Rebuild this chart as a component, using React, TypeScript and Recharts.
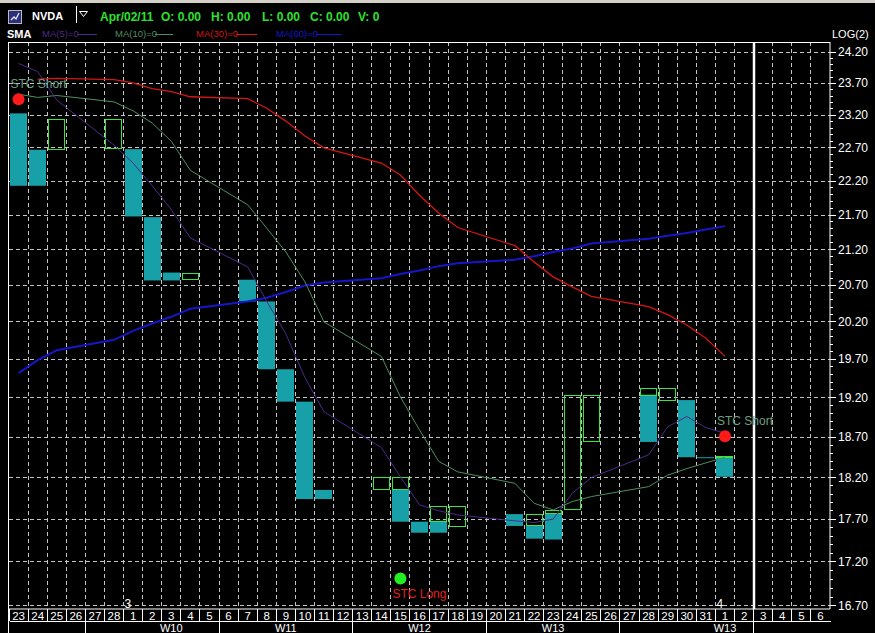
import React from "react";
import { ComposedChart, Bar, Line, XAxis, YAxis, CartesianGrid } from "recharts";

const _ = null;
const FONT = '"Liberation Sans", Arial, sans-serif';

// one slot per calendar day, Feb 23 .. Apr 6 2011
const days = [
  "23", "24", "25", "26", "27", "28",
  "1", "2", "3", "4", "5", "6", "7", "8", "9", "10", "11", "12", "13", "14", "15", "16",
  "17", "18", "19", "20", "21", "22", "23", "24", "25", "26", "27", "28", "29", "30", "31",
  "1", "2", "3", "4", "5", "6",
];
const weekStarts = [4, 11, 18, 25, 32, 39];
const weekLabels = [
  { text: "W10", slot: 8 },
  { text: "W11", slot: 14 },
  { text: "W12", slot: 21 },
  { text: "W13", slot: 28 },
  { text: "W13", slot: 37 },
];
const monthMarks: Record<number, string> = { 6: "3", 37: "4" };
const lastDay = 38; // Apr 2, the header date

const yMajor = [16.7, 17.2, 17.7, 18.2, 18.7, 19.2, 19.7, 20.2, 20.7, 21.2, 21.7, 22.2, 22.7, 23.2, 23.7, 24.2];
const yDomain = [16.666, 24.368];

// hollow green boxes (up) and filled teal boxes (down), [low, high]
const upBox: ([number, number] | null)[] = [
  _, _, [22.68, 23.14], _, _, [22.7, 23.14], _, _, _, [20.79, 20.88],
  _, _, _, _, _, _, _, _, _, [18.06, 18.21],
  [18.06, 18.21], _, [17.68, 17.86], [17.62, 17.86], _, _, _, [17.63, 17.76], [17.77, 17.81], [17.82, 19.24],
  [18.65, 19.24], _, _, [19.24, 19.33], [19.18, 19.33], _, _, [18.45, 18.46], _, _,
  _, _, _,
];
const downBox: ([number, number] | null)[] = [
  [22.13, 23.23], [22.13, 22.67], _, _, _, _, [21.68, 22.68], [20.77, 21.67], [20.77, 20.88], _,
  _, _, [20.48, 20.78], [19.57, 20.48], [19.15, 19.57], [17.94, 19.15], [17.94, 18.05], _, _, _,
  [17.67, 18.06], [17.54, 17.67], [17.54, 17.68], _, _, _, [17.62, 17.76], [17.47, 17.63], [17.46, 17.77], _,
  _, _, _, [18.64, 19.24], _, [18.45, 19.17], [18.44, 18.45], [18.21, 18.45], _, _,
  _, _, _,
];

const ma5 = [
  24.02, 23.89, 23.44, _, _, 22.74, 22.47, 22.13, 21.78, 21.37,
  _, _, 20.96, 20.48, 20.04, 19.46, 19.02, _, _, 18.57,
  18.21, 17.87, 17.8, 17.75, _, _, 17.68, 17.66, 17.7, 18.01,
  18.2, _, _, 18.48, 18.83, 18.96, 18.82, 18.75, _, _,
  _, _, _,
];
const ma10 = [
  23.53, 23.48, 23.51, _, _, 23.41, 23.27, 23.08, 22.8, 22.36,
  _, _, 21.85, 21.51, 21.17, 20.75, 20.2, _, _, 19.74,
  19.21, 18.79, 18.4, 18.27, _, _, 18.13, 17.89, 17.81, 17.91,
  17.97, _, _, 18.09, 18.23, 18.31, 18.38, 18.45, _, _,
  _, _, _,
];
const ma30 = [
  _, 23.77, 23.78, _, _, 23.76, 23.71, 23.62, 23.57, 23.49,
  _, _, 23.46, 23.31, 23.11, 22.88, 22.7, _, _, 22.47,
  22.29, 21.99, 21.73, 21.52, _, _, 21.26, 21.03, 20.82, 20.68,
  20.55, _, _, 20.41, 20.3, 20.16, 19.98, 19.74, _, _,
  _, _, _,
];
const ma60 = [
  19.52, 19.69, 19.82, _, _, 19.96, 20.08, 20.18, 20.27, 20.38,
  _, _, 20.48, 20.53, 20.61, 20.7, 20.74, _, _, 20.8,
  20.86, 20.91, 20.97, 21.01, _, _, 21.06, 21.11, 21.17, 21.22,
  21.29, _, _, 21.36, 21.4, 21.44, 21.49, 21.54, _, _,
  _, _, _,
];
const stcShort: Record<number, number> = { 0: 23.45, 37: 18.71 };
const stcLong: Record<number, number> = { 20: 17.01 };

const rows = days.map((day, i) => ({
  idx: i,
  day,
  up: upBox[i],
  down: downBox[i],
  ma5: ma5[i],
  ma10: ma10[i],
  ma30: ma30[i],
  ma60: ma60[i],
  short: stcShort[i] ?? null,
  long: stcLong[i] ?? null,
}));

const yTicks = yMajor.flatMap((m, k) =>
  k === yMajor.length - 1 ? [m] : [0, 0.1, 0.2, 0.3, 0.4].map((d) => +(m + d).toFixed(1))
);

const W = 875;
const H = 633;
const PLOT = { left: 9, top: 42, right: 830, bottom: 609 };
const SLOT = (PLOT.right - PLOT.left) / days.length;

const CYAN = "#17a0a8";
const UPGREEN = "#3ee43e";
const C5 = "#4d2a88";
const C10 = "#4f8f62";
const C30 = "#d41616";
const C60 = "#1616c8";

const yPos = (v: number, yAxis: any, offset: any) => {
  if (yAxis && typeof yAxis.scale === "function") return yAxis.scale(v);
  const a = Math.log(yDomain[1]);
  const b = Math.log(yDomain[0]);
  return offset.top + ((a - Math.log(v)) / (a - b)) * offset.height;
};
const hLines = ({ yAxis, offset }: any) => yMajor.map((v) => Math.floor(yPos(v, yAxis, offset)) + 0.5);
const vEdges = ({ offset }: any) => {
  const out: number[] = [];
  for (let i = 1; i < days.length; i++) {
    if (i !== lastDay + 1) out.push(Math.floor(offset.left + (i * offset.width) / days.length) + 0.5);
  }
  return out;
};
const futureEdge = ({ offset }: any) => [Math.round(offset.left + ((lastDay + 1) * offset.width) / days.length)];

const DownShape = (p: any) => {
  if (!p.payload || !p.payload.down) return <g />;
  const top = Math.min(p.y, p.y + p.height);
  const h = Math.max(1, Math.abs(p.height));
  return <rect x={Math.round(p.x)} y={top} width={p.width} height={h} fill={CYAN} />;
};

const UpShape = (p: any) => {
  if (!p.payload || !p.payload.up) return <g />;
  const top = Math.round(Math.min(p.y, p.y + p.height));
  const h = Math.max(1, Math.round(Math.abs(p.height)));
  return (
    <rect
      x={Math.round(p.x) + 0.5}
      y={top + 0.5}
      width={p.width - 1}
      height={h}
      fill="none"
      stroke={UPGREEN}
      strokeWidth={1}
    />
  );
};

const signalDot = (color: string, label: string, labelColor: string, below: boolean) => (p: any) => {
  if (p.value == null || p.cx == null || p.cy == null) return <g key={p.index} />;
  return (
    <g key={p.index}>
      <circle cx={p.cx} cy={p.cy} r={6} fill={color} />
      <text
        x={p.cx - 8}
        y={below ? p.cy + 19 : p.cy - 11}
        fill={labelColor}
        fontSize={12}
        fontFamily={FONT}
      >
        {label}
      </text>
    </g>
  );
};

const DayTick = (p: any) => {
  const i = Number(p.payload.value);
  const x = p.x;
  const y = Math.round(p.y);
  const left = Math.floor(x - SLOT / 2) + 0.5;
  const week = weekLabels.find((w) => w.slot === i);
  return (
    <g shapeRendering="crispEdges">
      <line x1={left} x2={left} y1={y} y2={y + 12} stroke="#fff" />
      <line x1={left} x2={left + SLOT + 1} y1={y + 12.5} y2={y + 12.5} stroke="#fff" />
      {weekStarts.includes(i) && <line x1={left} x2={left} y1={y + 12} y2={y + 24} stroke="#fff" />}
      <text x={x} y={y + 10.5} textAnchor="middle" fill="#fff" fontSize={11.5} fontFamily={FONT}>
        {days[i]}
      </text>
      {week && (
        <text x={x} y={y + 23} textAnchor="middle" fill="#fff" fontSize={11} fontFamily={FONT}>
          {week.text}
        </text>
      )}
      {monthMarks[i] && (
        <text x={left + 1} y={y - 1} fill="#fff" fontSize={12} fontFamily={FONT}>
          {monthMarks[i]}
        </text>
      )}
    </g>
  );
};

const PriceTick = (p: any) => {
  const v = Number(p.payload.value);
  const major = yMajor.some((m) => Math.abs(m - v) < 1e-6);
  const y = Math.floor(p.y) + 0.5;
  return (
    <g>
      <line x1={p.x} x2={p.x + (major ? 6 : 3)} y1={y} y2={y} stroke="#fff" shapeRendering="crispEdges" />
      {major && (
        <text x={p.x + 8} y={p.y + 4} fill="#fff" fontSize={12} fontFamily={FONT}>
          {v.toFixed(2)}
        </text>
      )}
    </g>
  );
};

const abs = (s: React.CSSProperties): React.CSSProperties => ({
  position: "absolute",
  whiteSpace: "nowrap",
  fontFamily: FONT,
  ...s,
});

const quote = [
  { text: "Apr/02/11", left: 100 },
  { text: "O: 0.00", left: 161 },
  { text: "H: 0.00", left: 211 },
  { text: "L: 0.00", left: 262 },
  { text: "C: 0.00", left: 310 },
  { text: "V: 0", left: 358 },
];
const legend = [
  { text: "MA(5)=0", color: C5, left: 42, l1: 77, l2: 97 },
  { text: "MA(10)=0", color: C10, left: 115, l1: 155, l2: 173 },
  { text: "MA(30)=0", color: C30, left: 196, l1: 236, l2: 257 },
  { text: "MA(60)=0", color: C60, left: 276, l1: 316, l2: 342 },
];

export default function App() {
  return (
    <div style={{ position: "absolute", left: 0, top: 0, width: W, height: H, background: "#000", overflow: "hidden" }}>
      <ComposedChart width={W} height={H} data={rows} margin={{ top: PLOT.top, right: 0, bottom: 0, left: PLOT.left }}>
        <CartesianGrid
          stroke="#c4c4c4"
          strokeDasharray="4 3"
          horizontalCoordinatesGenerator={hLines}
          verticalCoordinatesGenerator={vEdges}
        />
        <CartesianGrid horizontal={false} stroke="#fff" strokeWidth={2.5} verticalCoordinatesGenerator={futureEdge} />
        <XAxis
          dataKey="idx"
          type="category"
          interval={0}
          height={24}
          tickSize={0}
          tickMargin={0}
          tickLine={false}
          axisLine={{ stroke: "#fff" }}
          tick={DayTick}
        />
        <XAxis xAxisId="up" dataKey="idx" type="category" hide />
        <YAxis
          orientation="right"
          width={45}
          type="number"
          scale="log"
          domain={yDomain}
          allowDataOverflow
          ticks={yTicks}
          interval={0}
          tickSize={0}
          tickMargin={0}
          tickLine={false}
          axisLine={{ stroke: "#fff" }}
          tick={PriceTick}
        />
        <Bar dataKey="down" barSize={17} shape={DownShape} isAnimationActive={false} />
        <Bar dataKey="up" xAxisId="up" barSize={17} shape={UpShape} isAnimationActive={false} />
        <Line dataKey="ma60" stroke={C60} strokeWidth={2} dot={false} activeDot={false} connectNulls isAnimationActive={false} />
        <Line dataKey="ma30" stroke={C30} strokeWidth={1.3} dot={false} activeDot={false} connectNulls isAnimationActive={false} />
        <Line dataKey="ma10" stroke={C10} strokeWidth={1} dot={false} activeDot={false} connectNulls isAnimationActive={false} />
        <Line dataKey="ma5" stroke={C5} strokeWidth={1} dot={false} activeDot={false} connectNulls isAnimationActive={false} />
        <Line
          dataKey="short"
          stroke="none"
          dot={signalDot("#ff1a1a", "STC Short", "#6f9f80", false)}
          activeDot={false}
          isAnimationActive={false}
        />
        <Line
          dataKey="long"
          stroke="none"
          dot={signalDot("#22ee22", "STC Long", "#e02020", true)}
          activeDot={false}
          isAnimationActive={false}
        />
      </ComposedChart>

      {/* header strip */}
      <div style={{ position: "absolute", left: 0, top: 0, width: W, height: 3, background: "#d4d0c8" }} />
      <svg style={{ position: "absolute", left: 8, top: 10 }} width={14} height={14}>
        <rect x={0.5} y={0.5} width={13} height={13} fill="#2b2f7a" stroke="#b8b8c8" />
        <polyline points="3,10 6,7 8,9 11,3" fill="none" stroke="#e8e8ff" strokeWidth={1.3} />
      </svg>
      <div style={abs({ left: 32, top: 9, fontSize: 11, lineHeight: "14px", fontWeight: "bold", color: "#fff" })}>NVDA</div>
      <div style={{ position: "absolute", left: 76, top: 6, width: 1, height: 17, background: "#fff" }} />
      <svg style={{ position: "absolute", left: 79, top: 11 }} width={10} height={7}>
        <polygon points="0.5,0.5 8.5,0.5 4.5,5.5" fill="none" stroke="#fff" />
      </svg>
      {quote.map((q) => (
        <div
          key={q.left}
          style={abs({ left: q.left, top: 10, fontSize: 12, lineHeight: "14px", fontWeight: "bold", color: "#2ee02e" })}
        >
          {q.text}
        </div>
      ))}
      <div style={abs({ left: 7, top: 27, fontSize: 11, lineHeight: "14px", fontWeight: "bold", color: "#fff" })}>SMA</div>
      {legend.map((l) => (
        <React.Fragment key={l.text}>
          <div style={abs({ left: l.left, top: 28, fontSize: 9.5, lineHeight: "12px", color: l.color })}>{l.text}</div>
          <div style={{ position: "absolute", left: l.l1, top: 34, width: l.l2 - l.l1, height: 1, background: l.color }} />
        </React.Fragment>
      ))}
      <div style={abs({ left: 832, top: 28, fontSize: 11, lineHeight: "13px", color: "#fff" })}>LOG(2)</div>

      {/* plot frame */}
      <div style={{ position: "absolute", left: 8, top: 42, width: PLOT.right - 8, height: 1, background: "#fff" }} />
      <div style={{ position: "absolute", left: 8, top: 42, width: 1, height: H - 42, background: "#fff" }} />
    </div>
  );
}
